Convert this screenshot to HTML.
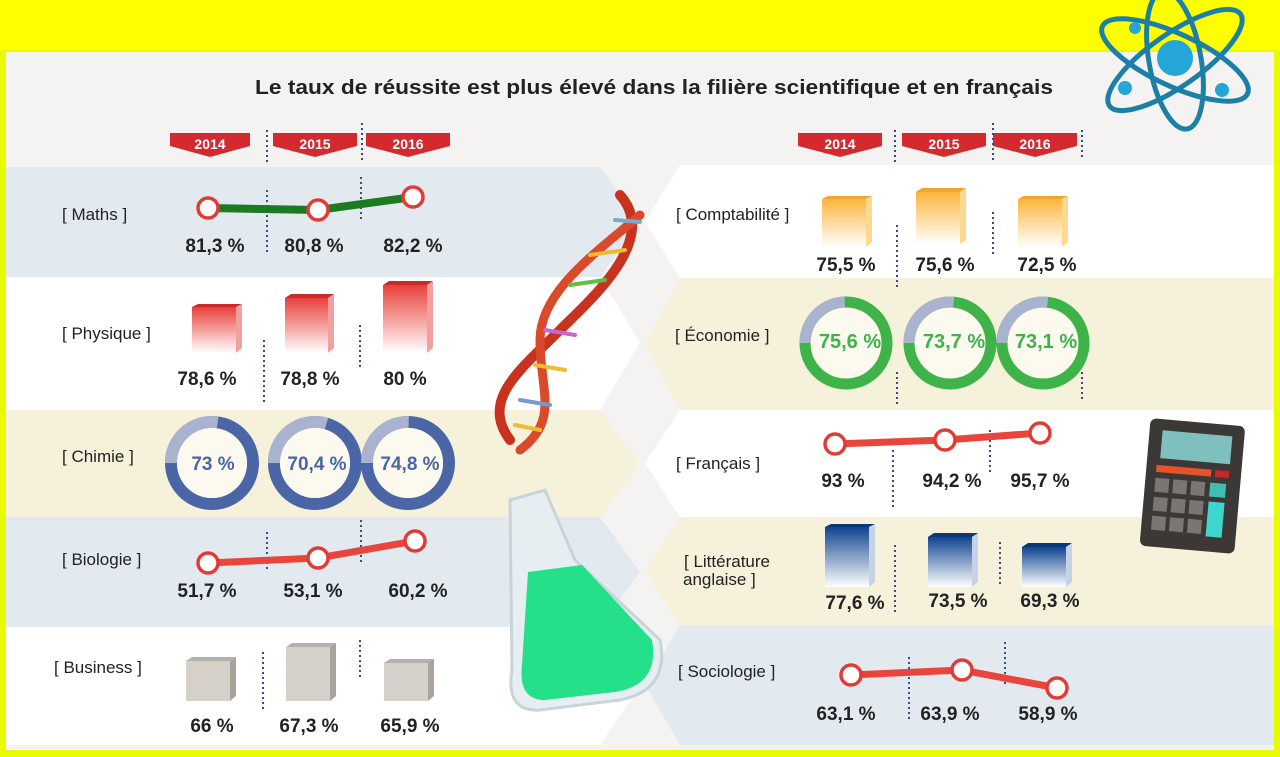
<!DOCTYPE html>
<html><head><meta charset="utf-8"><style>
html,body{margin:0;padding:0;background:#e9fb00;}
svg{display:block}
text{font-family:"Liberation Sans",sans-serif}
.v{font-weight:bold;font-size:19px;fill:#222;text-anchor:middle}
.l{font-size:17px;fill:#222}
.y{font-weight:bold;font-size:14px;fill:#fff;text-anchor:middle}
.d{stroke:#3a4a8a;stroke-width:2;stroke-dasharray:2 3}
</style></head><body>
<svg width="1280" height="757" viewBox="0 0 1280 757">
<defs>
<linearGradient id="gr" x1="0" y1="0" x2="0" y2="1"><stop offset="0" stop-color="#e8403a"/><stop offset="1" stop-color="#fff"/></linearGradient>
<linearGradient id="go" x1="0" y1="0" x2="0" y2="1"><stop offset="0" stop-color="#fdb53c"/><stop offset="1" stop-color="#fff"/></linearGradient>
<linearGradient id="gb" x1="0" y1="0" x2="0" y2="1"><stop offset="0" stop-color="#0f4590"/><stop offset="1" stop-color="#fff"/></linearGradient>
</defs>
<rect x="0" y="0" width="1280" height="757" fill="#e9fb00"/>
<rect x="0" y="0" width="1280" height="50" fill="#ffff00"/>
<rect x="6" y="52" width="1268" height="698" fill="#f4f3f1"/>
<text x="255" y="94" textLength="798" lengthAdjust="spacingAndGlyphs" font-weight="bold" font-size="20" fill="#222">Le taux de réussite est plus élevé dans la filière scientifique et en français</text>
<!-- left rows -->
<polygon points="6,167 600,167 640,222 600,277 6,277" fill="#e3eaef"/>
<polygon points="6,277 600,277 640,343 600,410 6,410" fill="#ffffff"/>
<polygon points="6,410 600,410 640,463 600,517 6,517" fill="#f6f1da"/>
<polygon points="6,517 600,517 640,572 600,627 6,627" fill="#e3eaef"/>
<polygon points="6,627 600,627 640,686 600,745 6,745" fill="#ffffff"/>
<!-- right rows -->
<polygon points="680,165 1274,165 1274,278 680,278 645,222" fill="#ffffff"/>
<polygon points="680,278 1274,278 1274,410 680,410 645,344" fill="#f6f1da"/>
<polygon points="680,410 1274,410 1274,517 680,517 645,463" fill="#ffffff"/>
<polygon points="680,517 1274,517 1274,625 680,625 645,571" fill="#f6f1da"/>
<polygon points="680,625 1274,625 1274,745 680,745 645,685" fill="#e3eaef"/>
<!-- year tags -->
<g>
<polygon points="170,133 250,133 250,146 210,157 170,146" fill="#d42a2f"/><text class="y" x="210" y="149">2014</text>
<polygon points="273,133 357,133 357,146 315,157 273,146" fill="#d42a2f"/><text class="y" x="315" y="149">2015</text>
<polygon points="366,133 450,133 450,146 408,157 366,146" fill="#d42a2f"/><text class="y" x="408" y="149">2016</text>
<line class="d" x1="267" y1="130" x2="267" y2="163"/><line class="d" x1="362" y1="123" x2="362" y2="160"/>
<polygon points="798,133 882,133 882,146 840,157 798,146" fill="#d42a2f"/><text class="y" x="840" y="149">2014</text>
<polygon points="902,133 986,133 986,146 944,157 902,146" fill="#d42a2f"/><text class="y" x="944" y="149">2015</text>
<polygon points="993,133 1077,133 1077,146 1035,157 993,146" fill="#d42a2f"/><text class="y" x="1035" y="149">2016</text>
<line class="d" x1="895" y1="130" x2="895" y2="163"/><line class="d" x1="993" y1="123" x2="993" y2="160"/><line class="d" x1="1082" y1="130" x2="1082" y2="160"/>
</g>
<!-- Maths -->
<text class="l" x="62" y="220">[ Maths ]</text>
<line class="d" x1="267" y1="190" x2="267" y2="255"/><line class="d" x1="361" y1="177" x2="361" y2="220"/>
<polyline points="208,208 318,210 413,197" fill="none" stroke="#1c7a20" stroke-width="8"/>
<g fill="#fff" stroke="#e33a35" stroke-width="3.5"><circle cx="208" cy="208" r="10"/><circle cx="318" cy="210" r="10"/><circle cx="413" cy="197" r="10"/></g>
<text class="v" x="215" y="252">81,3 %</text><text class="v" x="314" y="252">80,8 %</text><text class="v" x="413" y="252">82,2 %</text>
<!-- Physique -->
<text class="l" x="62" y="339">[ Physique ]</text>
<line class="d" x1="264" y1="340" x2="264" y2="405"/><line class="d" x1="360" y1="325" x2="360" y2="370"/>
<g><polygon points="192,307 236,307 242,304 198,304" fill="#c92a2a"/><rect x="192" y="307" width="44" height="46" fill="url(#gr)"/><polygon points="236,307 242,304 242,348 236,353" fill="#f1a0a0"/></g>
<g><polygon points="285,298 328,298 334,294 291,294" fill="#c92a2a"/><rect x="285" y="298" width="43" height="55" fill="url(#gr)"/><polygon points="328,298 334,294 334,348 328,353" fill="#f1a0a0"/></g>
<g><polygon points="383,285 427,285 433,281 389,281" fill="#c92a2a"/><rect x="383" y="285" width="44" height="68" fill="url(#gr)"/><polygon points="427,285 433,281 433,348 427,353" fill="#f1a0a0"/></g>
<text class="v" x="207" y="385">78,6 %</text><text class="v" x="310" y="385">78,8 %</text><text class="v" x="405" y="385">80 %</text>
<!-- Chimie -->
<text class="l" x="62" y="462">[ Chimie ]</text>
<g fill="none" stroke-width="12">
<circle cx="212" cy="463" r="41" stroke="#4a66a6"/><circle cx="212" cy="463" r="41" stroke="#a9b3cf" stroke-dasharray="70 300" transform="rotate(-180 212 463)"/>
<circle cx="315" cy="463" r="41" stroke="#4a66a6"/><circle cx="315" cy="463" r="41" stroke="#a9b3cf" stroke-dasharray="76 300" transform="rotate(-180 315 463)"/>
<circle cx="408" cy="463" r="41" stroke="#4a66a6"/><circle cx="408" cy="463" r="41" stroke="#a9b3cf" stroke-dasharray="65 300" transform="rotate(-180 408 463)"/>
</g>
<g fill="#fcf9ee"><circle cx="212" cy="463" r="35"/><circle cx="315" cy="463" r="35"/><circle cx="408" cy="463" r="35"/></g>
<text class="v" x="213" y="470" style="fill:#4a66a6">73 %</text><text class="v" x="317" y="470" style="fill:#4a66a6">70,4 %</text><text class="v" x="410" y="470" style="fill:#4a66a6">74,8 %</text>
<!-- Biologie -->
<text class="l" x="62" y="565">[ Biologie ]</text>
<line class="d" x1="267" y1="532" x2="267" y2="572"/><line class="d" x1="361" y1="520" x2="361" y2="565"/>
<polyline points="208,563 318,558 415,541" fill="none" stroke="#e8463d" stroke-width="7"/>
<g fill="#fff" stroke="#e33a35" stroke-width="3.5"><circle cx="208" cy="563" r="10"/><circle cx="318" cy="558" r="10"/><circle cx="415" cy="541" r="10"/></g>
<text class="v" x="207" y="597">51,7 %</text><text class="v" x="313" y="597">53,1 %</text><text class="v" x="418" y="597">60,2 %</text>
<!-- Business -->
<text class="l" x="54" y="673">[ Business ]</text>
<line class="d" x1="263" y1="652" x2="263" y2="712"/><line class="d" x1="360" y1="640" x2="360" y2="680"/>
<g><polygon points="186,661 230,661 236,657 192,657" fill="#b5b0aa"/><rect x="186" y="661" width="44" height="40" fill="#d5d0ca"/><polygon points="230,661 236,657 236,696 230,701" fill="#a8a39d"/></g>
<g><polygon points="286,647 330,647 336,643 292,643" fill="#b5b0aa"/><rect x="286" y="647" width="44" height="54" fill="#d5d0ca"/><polygon points="330,647 336,643 336,696 330,701" fill="#a8a39d"/></g>
<g><polygon points="384,663 428,663 434,659 390,659" fill="#b5b0aa"/><rect x="384" y="663" width="44" height="38" fill="#d5d0ca"/><polygon points="428,663 434,659 434,696 428,701" fill="#a8a39d"/></g>
<text class="v" x="212" y="732">66 %</text><text class="v" x="309" y="732">67,3 %</text><text class="v" x="410" y="732">65,9 %</text>
<!-- Comptabilité -->
<text class="l" x="676" y="220">[ Comptabilité ]</text>
<line class="d" x1="897" y1="225" x2="897" y2="290"/><line class="d" x1="993" y1="212" x2="993" y2="255"/>
<g><polygon points="822,199 866,199 872,196 828,196" fill="#f0a532"/><rect x="822" y="199" width="44" height="48" fill="url(#go)"/><polygon points="866,199 872,196 872,242 866,247" fill="#fcd890"/></g>
<g><polygon points="916,192 960,192 966,188 922,188" fill="#f0a532"/><rect x="916" y="192" width="44" height="52" fill="url(#go)"/><polygon points="960,192 966,188 966,240 960,244" fill="#fcd890"/></g>
<g><polygon points="1018,199 1062,199 1068,196 1024,196" fill="#f0a532"/><rect x="1018" y="199" width="44" height="48" fill="url(#go)"/><polygon points="1062,199 1068,196 1068,242 1062,247" fill="#fcd890"/></g>
<text class="v" x="846" y="271">75,5 %</text><text class="v" x="945" y="271">75,6 %</text><text class="v" x="1047" y="271">72,5 %</text>
<!-- Économie -->
<text class="l" x="675" y="341">[ Économie ]</text>
<g fill="none" stroke-width="11">
<circle cx="846" cy="343" r="41" stroke="#3db34a"/><circle cx="846" cy="343" r="41" stroke="#a9b3cf" stroke-dasharray="63 300" transform="rotate(-180 846 343)"/>
<circle cx="950" cy="343" r="41" stroke="#3db34a"/><circle cx="950" cy="343" r="41" stroke="#a9b3cf" stroke-dasharray="68 300" transform="rotate(-180 950 343)"/>
<circle cx="1043" cy="343" r="41" stroke="#3db34a"/><circle cx="1043" cy="343" r="41" stroke="#a9b3cf" stroke-dasharray="69 300" transform="rotate(-180 1043 343)"/>
</g>
<g fill="#fcf9ee"><circle cx="846" cy="343" r="35"/><circle cx="950" cy="343" r="35"/><circle cx="1043" cy="343" r="35"/></g>
<text class="v" x="850" y="348" style="fill:#3db34a;font-size:20px">75,6 %</text><text class="v" x="954" y="348" style="fill:#3db34a;font-size:20px">73,7 %</text><text class="v" x="1046" y="348" style="fill:#3db34a;font-size:20px">73,1 %</text>
<line class="d" x1="897" y1="372" x2="897" y2="405"/><line class="d" x1="1082" y1="372" x2="1082" y2="400"/>
<!-- Français -->
<text class="l" x="676" y="469">[ Français ]</text>
<line class="d" x1="893" y1="450" x2="893" y2="508"/><line class="d" x1="990" y1="430" x2="990" y2="472"/>
<polyline points="835,444 945,440 1040,433" fill="none" stroke="#e8463d" stroke-width="7"/>
<g fill="#fff" stroke="#e33a35" stroke-width="3.5"><circle cx="835" cy="444" r="10"/><circle cx="945" cy="440" r="10"/><circle cx="1040" cy="433" r="10"/></g>
<text class="v" x="843" y="487">93 %</text><text class="v" x="952" y="487">94,2 %</text><text class="v" x="1040" y="487">95,7 %</text>
<!-- Littérature -->
<text class="l" x="684" y="567">[ Littérature</text><text class="l" x="683" y="585">anglaise ]</text>
<line class="d" x1="895" y1="545" x2="895" y2="612"/><line class="d" x1="1000" y1="542" x2="1000" y2="587"/>
<g><polygon points="825,527 869,527 875,524 831,524" fill="#0a3878"/><rect x="825" y="527" width="44" height="60" fill="url(#gb)"/><polygon points="869,527 875,524 875,582 869,587" fill="#c6d2e6"/></g>
<g><polygon points="928,537 972,537 978,533 934,533" fill="#0a3878"/><rect x="928" y="537" width="44" height="50" fill="url(#gb)"/><polygon points="972,537 978,533 978,582 972,587" fill="#c6d2e6"/></g>
<g><polygon points="1022,547 1066,547 1072,543 1028,543" fill="#0a3878"/><rect x="1022" y="547" width="44" height="40" fill="url(#gb)"/><polygon points="1066,547 1072,543 1072,582 1066,587" fill="#c6d2e6"/></g>
<text class="v" x="855" y="609">77,6 %</text><text class="v" x="958" y="607">73,5 %</text><text class="v" x="1050" y="607">69,3 %</text>
<!-- Sociologie -->
<text class="l" x="678" y="677">[ Sociologie ]</text>
<line class="d" x1="909" y1="657" x2="909" y2="720"/><line class="d" x1="1005" y1="642" x2="1005" y2="685"/>
<polyline points="851,675 962,670 1057,688" fill="none" stroke="#e8463d" stroke-width="7"/>
<g fill="#fff" stroke="#e33a35" stroke-width="3.5"><circle cx="851" cy="675" r="10"/><circle cx="962" cy="670" r="10"/><circle cx="1057" cy="688" r="10"/></g>
<text class="v" x="846" y="720">63,1 %</text><text class="v" x="950" y="720">63,9 %</text><text class="v" x="1048" y="720">58,9 %</text>
<!-- DNA -->
<g fill="none" stroke-linecap="round">
<path d="M620,195 C660,240 590,300 560,330 C520,370 480,400 510,440" stroke="#c8321e" stroke-width="10"/>
<path d="M640,215 C600,250 540,290 540,340 C540,390 560,420 520,450" stroke="#d84a2a" stroke-width="9"/>
<g stroke-width="4"><line x1="615" y1="220" x2="640" y2="222" stroke="#7ac"/><line x1="590" y1="255" x2="625" y2="250" stroke="#eb3"/><line x1="570" y1="285" x2="605" y2="280" stroke="#6b4"/><line x1="545" y1="330" x2="575" y2="335" stroke="#c6c"/><line x1="535" y1="365" x2="565" y2="370" stroke="#eb3"/><line x1="520" y1="400" x2="550" y2="405" stroke="#79c"/><line x1="515" y1="425" x2="540" y2="430" stroke="#eb3"/></g>
</g>
<!-- flask -->
<path d="M510,500 L545,490 L575,560 L660,640 Q670,690 620,700 L540,710 Q505,712 512,670 Z" fill="#e6eef2" stroke="#c8d4da" stroke-width="3"/>
<path d="M528,572 L582,565 L652,640 Q660,685 615,692 L545,700 Q518,700 522,665 Z" fill="#25e08a"/>
<!-- atom -->
<g fill="none" stroke="#1c7fa6" stroke-width="5">
<ellipse cx="1175" cy="60" rx="80" ry="26" transform="rotate(25 1175 60)"/>
<ellipse cx="1175" cy="60" rx="80" ry="26" transform="rotate(-35 1175 60)"/>
<ellipse cx="1175" cy="60" rx="26" ry="70" transform="rotate(-10 1175 60)"/>
</g>
<g fill="#25a6d8"><circle cx="1175" cy="58" r="18"/><circle cx="1125" cy="88" r="7"/><circle cx="1222" cy="90" r="7"/><circle cx="1135" cy="28" r="6"/></g>
<!-- calculator -->
<g transform="rotate(5 1192 485)">
<rect x="1145" y="422" width="95" height="128" rx="6" fill="#3b3836"/>
<rect x="1158" y="433" width="70" height="28" fill="#7fc0bf"/>
<rect x="1155" y="468" width="55" height="7" fill="#e8522a"/>
<rect x="1214" y="468" width="14" height="7" fill="#c8282a"/>
<g fill="#7a7674"><rect x="1155" y="481" width="14" height="14"/><rect x="1173" y="481" width="14" height="14"/><rect x="1191" y="481" width="14" height="14"/><rect x="1155" y="500" width="14" height="14"/><rect x="1173" y="500" width="14" height="14"/><rect x="1191" y="500" width="14" height="14"/><rect x="1155" y="519" width="14" height="14"/><rect x="1173" y="519" width="14" height="14"/><rect x="1191" y="519" width="14" height="14"/></g>
<rect x="1210" y="481" width="16" height="14" fill="#3fbfb0"/><rect x="1210" y="500" width="16" height="35" fill="#3fd6d0"/>
</g>
</svg>
</body></html>
